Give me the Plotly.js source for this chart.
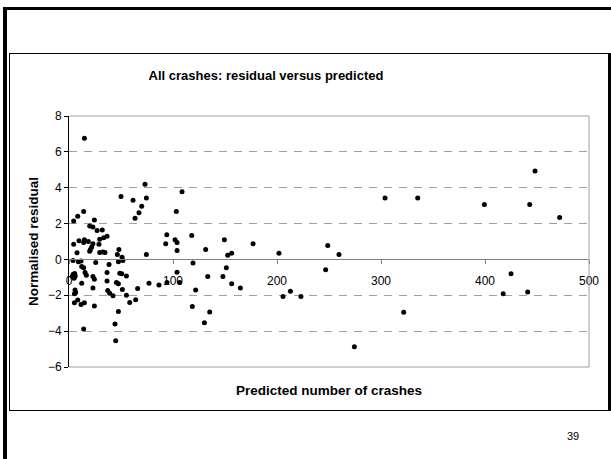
<!DOCTYPE html>
<html>
<head>
<meta charset="utf-8">
<script src="https://cdn.plot.ly/plotly-3.0.1.min.js"></script>
<style>
  html, body { margin:0; padding:0; background:#fff; }
  #wrap { position:relative; width:611px; height:459px; overflow:hidden; }
  #slide { position:absolute; left:3px; top:7px; width:700px; height:500px;
           border-left:4px solid #000; border-top:3px solid #000; }
  #box { position:absolute; left:9px; top:53px; width:598px; height:356px;
         border:1.5px solid #000; border-right:3px solid #000; }
  #chart { position:absolute; left:0; top:0; width:611px; height:459px; }
</style>
</head>
<body>
<div id="wrap">
  <div id="slide"></div>
  <div id="box"></div>
  <div id="chart"></div>
</div>
<script>
// Predicted number of crashes (x) and normalised residual (y)
const predicted = [
  14.8, 4.5, 8.4, 14.1, 24.4, 19.9, 23.0, 27.0, 32.0, 33.4,
  36.6, 29.5, 4.5, 9.6, 14.8, 14.1, 18.6, 23.0, 28.8, 21.8,
  20.6, 48.0, 50.0, 61.6, 63.5, 67.3, 69.9, 73.1, 74.4, 93.0,
  94.0, 102.0, 103.9, 103.2, 108.7, 118.0, 131.4, 7.7, 19.9, 29.5,
  32.7, 34.6, 46.5, 51.0, 74.4, 103.9, 3.9, 9.0, 11.6, 25.7,
  38.5, 47.5, 51.8, 12.2, 14.1, 15.4, 3.9, 5.2, 3.3, 5.5,
  16.7, 23.0, 24.4, 36.6, 48.8, 50.7, 55.2, 36.6, 45.6, 47.5,
  12.2, 23.0, 37.2, 39.1, 42.3, 51.3, 55.2, 66.0, 76.9, 86.5,
  94.2, 106.4, 103.9, 5.8, 6.4, 5.2, 5.2, 8.4, 11.6, 14.8,
  24.4, 58.4, 64.1, 47.5, 14.1, 44.2, 44.9, 119.2, 121.8, 118.6,
  133.4, 130.2, 135.3, 4.0, 6.0, 4.8,
  149.4, 177.0, 248.8, 303.9, 152.6, 156.4, 201.9, 259.6, 246.8, 148.0,
  151.3, 156.4, 164.8, 205.8, 212.9, 223.0, 274.4, 335.3, 448.1, 399.4,
  443.0, 471.8, 425.0, 417.5, 441.0, 321.8
];
const residual = [
  6.76, 2.15, 2.41, 2.67, 2.20, 1.87, 1.81, 1.62, 1.64, 1.21,
  1.29, 1.12, 0.84, 1.04, 1.10, 0.95, 1.00, 0.88, 0.84, 0.70,
  0.56, 0.56, 3.51, 3.30, 2.30, 2.61, 2.97, 4.20, 3.43, 0.88,
  1.38, 1.10, 0.95, 2.67, 3.77, 1.33, 0.56, 0.37, 0.45, 0.39,
  0.41, 0.39, 0.28, 0.12, 0.28, 0.50, -0.06, -0.13, -0.09, -0.17,
  -0.28, -0.13, -0.06, -0.39, -0.47, -0.73, -0.88, -0.99, -0.95, -0.78,
  -0.88, -0.95, -1.10, -0.73, -0.77, -0.80, -0.92, -1.21, -1.29, -1.36,
  -1.33, -1.59, -1.74, -1.89, -2.03, -1.68, -2.00, -1.62, -1.33, -1.42,
  -1.29, -1.29, -0.72, -1.70, -1.85, -1.92, -2.41, -2.26, -2.52, -2.41,
  -2.60, -2.40, -2.25, -2.90, -3.88, -3.60, -4.54, -0.20, -1.70, -2.62,
  -0.95, -3.53, -2.93, -0.82, -0.92, -1.05,
  1.10, 0.88, 0.77, 3.43, 0.24, 0.35, 0.35, 0.28, -0.58, -0.95,
  -0.47, -1.36, -1.59, -2.07, -1.78, -2.07, -4.87, 3.43, 4.93, 3.06,
  3.06, 2.34, -0.80, -1.92, -1.81, -2.95
];
const xTickVals = [0, 100, 200, 300, 400, 500];
const yTickVals = [-6, -4, -2, 0, 2, 4, 6, 8];

const FONT = 'Liberation Sans, Arial, sans-serif';

const trace = {
  type: 'scatter', mode: 'markers',
  x: predicted, y: residual,
  marker: { color: '#000', size: 5, line: { width: 0 } },
  hoverinfo: 'none', showlegend: false
};

const layout = {
  width: 611, height: 459,
  margin: { l: 69, r: 22, t: 116, b: 92, pad: 0 },
  paper_bgcolor: 'rgba(0,0,0,0)', plot_bgcolor: 'rgba(0,0,0,0)',
  font: { family: FONT, size: 12, color: '#000' },
  title: {
    text: '<b>All crashes: residual versus predicted</b>',
    font: { family: FONT, size: 13, color: '#000' },
    x: 266 / 611, xanchor: 'center', xref: 'container',
    y: 1 - 75 / 459, yanchor: 'middle', yref: 'container'
  },
  xaxis: {
    range: [0, 500], tickmode: 'array', tickvals: xTickVals,
    anchor: 'free', position: 6 / 14,
    showline: true, linecolor: '#808080', linewidth: 1,
    ticks: 'outside', ticklen: 4, tickcolor: '#808080', tickwidth: 1,
    showgrid: false, zeroline: false, ticklabelstandoff: 6,
    tickfont: { family: FONT, size: 12, color: '#000' },
    fixedrange: true
  },
  yaxis: {
    range: [-6, 8], tickmode: 'array', tickvals: yTickVals,
    domain: [0, 1],
    showline: true, linecolor: '#000', linewidth: 1,
    ticks: 'outside', ticklen: 4, tickcolor: '#000',
    showgrid: true, gridcolor: '#a0a0a0', gridwidth: 1, griddash: '8px,7px',
    zeroline: false,
    tickfont: { family: FONT, size: 12, color: '#000' },
    title: { text: '<b>Normalised residual</b>', font: { family: FONT, size: 13.5, color: '#000' }, standoff: 6 },
    fixedrange: true
  },
  shapes: [
    { type: 'line', xref: 'paper', yref: 'paper', x0: 0, x1: 1, y0: 1, y1: 1, line: { color: '#a0a0a0', width: 1 } },
    { type: 'line', xref: 'paper', yref: 'paper', x0: 1, x1: 1, y0: 0, y1: 1, line: { color: '#a0a0a0', width: 1 } },
    { type: 'line', xref: 'paper', yref: 'paper', x0: 0, x1: 1, y0: 0, y1: 0, line: { color: '#a0a0a0', width: 1 } }
  ],
  annotations: [
    { text: '<b>Predicted number of crashes</b>', xref: 'paper', yref: 'paper',
      x: 0.5, xanchor: 'center', y: -23 / 251, yanchor: 'middle', showarrow: false,
      font: { family: FONT, size: 13.5, color: '#000' } },
    { text: '39', xref: 'paper', yref: 'paper',
      x: (573 - 69) / 520, xanchor: 'center', y: -(436 - 367) / 251, yanchor: 'middle', showarrow: false,
      font: { family: FONT, size: 11, color: '#000' } }
  ]
};

Plotly.newPlot('chart', [trace], layout, { staticPlot: true, displayModeBar: false });
</script>
</body>
</html>
